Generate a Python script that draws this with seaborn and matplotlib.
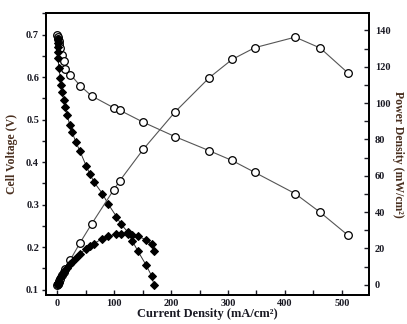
import matplotlib
matplotlib.use("Agg")
import matplotlib.pyplot as plt
import seaborn as sns
import pandas as pd
from matplotlib.ticker import MultipleLocator

# Open-circle series
circ_current = [0, 0.5, 1, 2, 3, 5, 8, 11, 14, 23, 40, 60, 99, 110, 151, 207, 267, 307, 347, 418, 462, 510]
circ_voltage = [0.700, 0.695, 0.690, 0.684, 0.677, 0.668, 0.653, 0.637, 0.620, 0.606, 0.580, 0.556,
                0.528, 0.522, 0.494, 0.460, 0.427, 0.404, 0.376, 0.326, 0.282, 0.229]
circ_power = [0, 0.35, 0.69, 1.37, 2.03, 3.34, 5.22, 7.0, 8.68, 13.9, 23.2, 33.4,
              52.3, 57.4, 74.6, 95.2, 114.0, 124.0, 130.5, 136.3, 130.3, 116.8]

# Filled-diamond series
dia_current = [0.3, 0.6, 1.0, 1.3, 1.6, 2.3, 5.3, 7.0, 8.8, 11.1, 14.1, 17.0, 21.7, 25.7, 32.2, 39.3,
               51.1, 56.9, 64.5, 79.2, 89.1, 103.9, 111.4, 124.3, 132.0, 141.9, 155.5, 165.5, 170.1]
dia_voltage = [0.690, 0.680, 0.670, 0.660, 0.645, 0.622, 0.598, 0.582, 0.564, 0.547, 0.530, 0.512,
               0.488, 0.472, 0.448, 0.427, 0.390, 0.373, 0.353, 0.326, 0.302, 0.272, 0.255, 0.235,
               0.214, 0.190, 0.159, 0.133, 0.110]
dia_power = [0.2, 0.4, 0.7, 0.9, 1.0, 1.4, 3.6, 4.6, 5.6, 6.9, 8.3, 9.5, 11.3, 12.8, 15.0, 17.0,
             19.9, 21.2, 22.7, 25.5, 26.8, 27.8, 28.0, 28.2, 27.6, 26.8, 24.8, 22.4, 18.8]

df_c = pd.DataFrame({"I": circ_current, "V": circ_voltage, "P": circ_power})
df_d = pd.DataFrame({"I": dia_current, "V": dia_voltage, "P": dia_power})

sns.set_style("white")
plt.rcParams["font.family"] = ["Liberation Serif", "DejaVu Serif"]
plt.rcParams["font.weight"] = "bold"

fig = plt.figure(figsize=(4.07, 3.24), dpi=100)
ax = fig.add_axes([0.113, 0.09, 0.794, 0.87])
ax2 = ax.twinx()

circ_kw = dict(marker="o", markersize=5.5, markerfacecolor="white", markeredgecolor="black",
               markeredgewidth=0.9, color="#555555", linewidth=0.8, estimator=None, sort=False)
dia_kw = dict(marker="D", markersize=3.8, markerfacecolor="black", markeredgecolor="black",
              color="#333333", linewidth=0.7, estimator=None, sort=False)

sns.lineplot(data=df_c, x="I", y="V", ax=ax, **circ_kw)
sns.lineplot(data=df_d, x="I", y="V", ax=ax, **dia_kw)
sns.lineplot(data=df_c, x="I", y="P", ax=ax2, **circ_kw)
sns.lineplot(data=df_d, x="I", y="P", ax=ax2, **dia_kw)

ax.set_xlim(-20, 548)
ax.set_ylim(0.088, 0.751)
ax2.set_ylim(-5.5, 149.6)

ax.xaxis.set_major_locator(MultipleLocator(100))
ax.xaxis.set_minor_locator(MultipleLocator(50))
ax.yaxis.set_major_locator(MultipleLocator(0.1))
ax.yaxis.set_minor_locator(MultipleLocator(0.05))
ax2.yaxis.set_major_locator(MultipleLocator(20))
ax2.yaxis.set_minor_locator(MultipleLocator(10))

tick_color = "#1a1a24"
ax.tick_params(axis="x", which="both", direction="in", length=3.5, width=1, bottom=True, top=False,
               labelsize=7.5, colors=tick_color, pad=3)
ax.tick_params(axis="y", which="both", direction="out", length=3, width=1, left=True,
               labelsize=7.5, colors=tick_color, pad=2)
ax2.tick_params(axis="y", which="both", direction="in", length=3.5, width=1, right=True,
                labelsize=7.5, colors=tick_color, pad=4)
ax.yaxis.set_major_formatter(matplotlib.ticker.FormatStrFormatter("%.1f"))

for a in (ax, ax2):
    for s in a.spines.values():
        s.set_linewidth(1.3)
        s.set_color("black")

lab_color = "#4a3020"
ax.set_xlabel("Current Density (mA/cm²)", fontsize=9, fontweight="bold", color="#1a1a24", labelpad=0)
ax.set_ylabel("Cell Voltage (V)", fontsize=8.5, fontweight="bold", color=lab_color, labelpad=6)
ax2.set_ylabel("Power Density (mW/cm²)", fontsize=8.5, fontweight="bold", color=lab_color,
               rotation=270, labelpad=10)

fig.savefig("out.png", dpi=100)
